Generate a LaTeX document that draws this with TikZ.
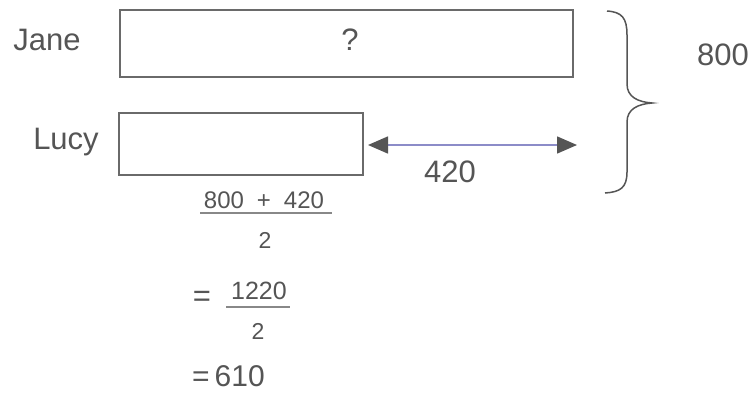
\documentclass[tikz,border=0pt]{standalone}
\usepackage{fontspec}
\setmainfont{Liberation Sans}
\usetikzlibrary{arrows.meta}
\definecolor{ink}{HTML}{555555}
\definecolor{boxline}{HTML}{6A6A6A}
\definecolor{lav}{HTML}{8C8CC8}
\tikzset{
  big/.style={font=\fontsize{31}{36}\selectfont, text=ink, inner sep=0pt},
  mid/.style={font=\fontsize{25}{30}\selectfont, text=ink, inner sep=0pt},
  small/.style={font=\fontsize{23}{27}\selectfont, text=ink, inner sep=0pt},
  barbox/.style={draw=boxline, line width=1.5pt, inner sep=0pt},
  fracline/.style={draw=ink!70, line width=1.2pt},
  dblarrow/.style={draw=lav, line width=1.5pt,
    {Triangle[length=20pt,width=17pt,color=ink]}-{Triangle[length=20pt,width=17pt,color=ink]}},
  bracestyle/.style={draw=ink, line width=1.5pt}
}
\begin{document}
\begin{tikzpicture}[x=1pt,y=-1pt]
\useasboundingbox (0,0) rectangle (755,394);
\fill[white] (0,0) rectangle (755,394);
% bars
\node[barbox, minimum width=453pt, minimum height=67pt] (jane) at (346.5,43.5) {};
\node[big] (q) at (350,40) {?};
\node[barbox, minimum width=244pt, minimum height=62pt] (lucy) at (241,144) {};
\node[big] (janelbl) at (47,40) {Jane};
\node[big] (lucylbl) at (66,142) {Lucy};
% difference arrow
\coordinate (aL) at (368,145);
\coordinate (aR) at (577,145);
\draw[dblarrow] (aL) -- (aR);
\node[big] (n420) at (450,172) {420};
% brace
\draw[bracestyle] (607,11) .. controls (622,12) and (627,18) .. (627,35) -- (627,84)
  .. controls (627,97) and (638,102) .. (652,103)
  .. controls (638,104) and (627,109) .. (627,122) -- (627,172)
  .. controls (627,188) and (620,192) .. (605,193);
\node[big] (n800) at (723,55) {800};
% working
\node[small, font=\fontsize{24}{28}\selectfont] (num1) at (264,200) {800\hspace{13pt}+\hspace{13pt}420};
\draw[fracline] (200,213) -- (332,213);
\node[small] (den1) at (265,240) {2};
\node[big] (eq1) at (202,299) {=};
\node[mid] (num2) at (259,291) {1220};
\draw[fracline] (226,307) -- (290,307);
\node[small] (den2) at (258,331) {2};
\node[font=\fontsize{30}{34}\selectfont, text=ink, inner sep=0pt, anchor=west] (res) at (192,376) {=\,610};
\end{tikzpicture}
\end{document}
